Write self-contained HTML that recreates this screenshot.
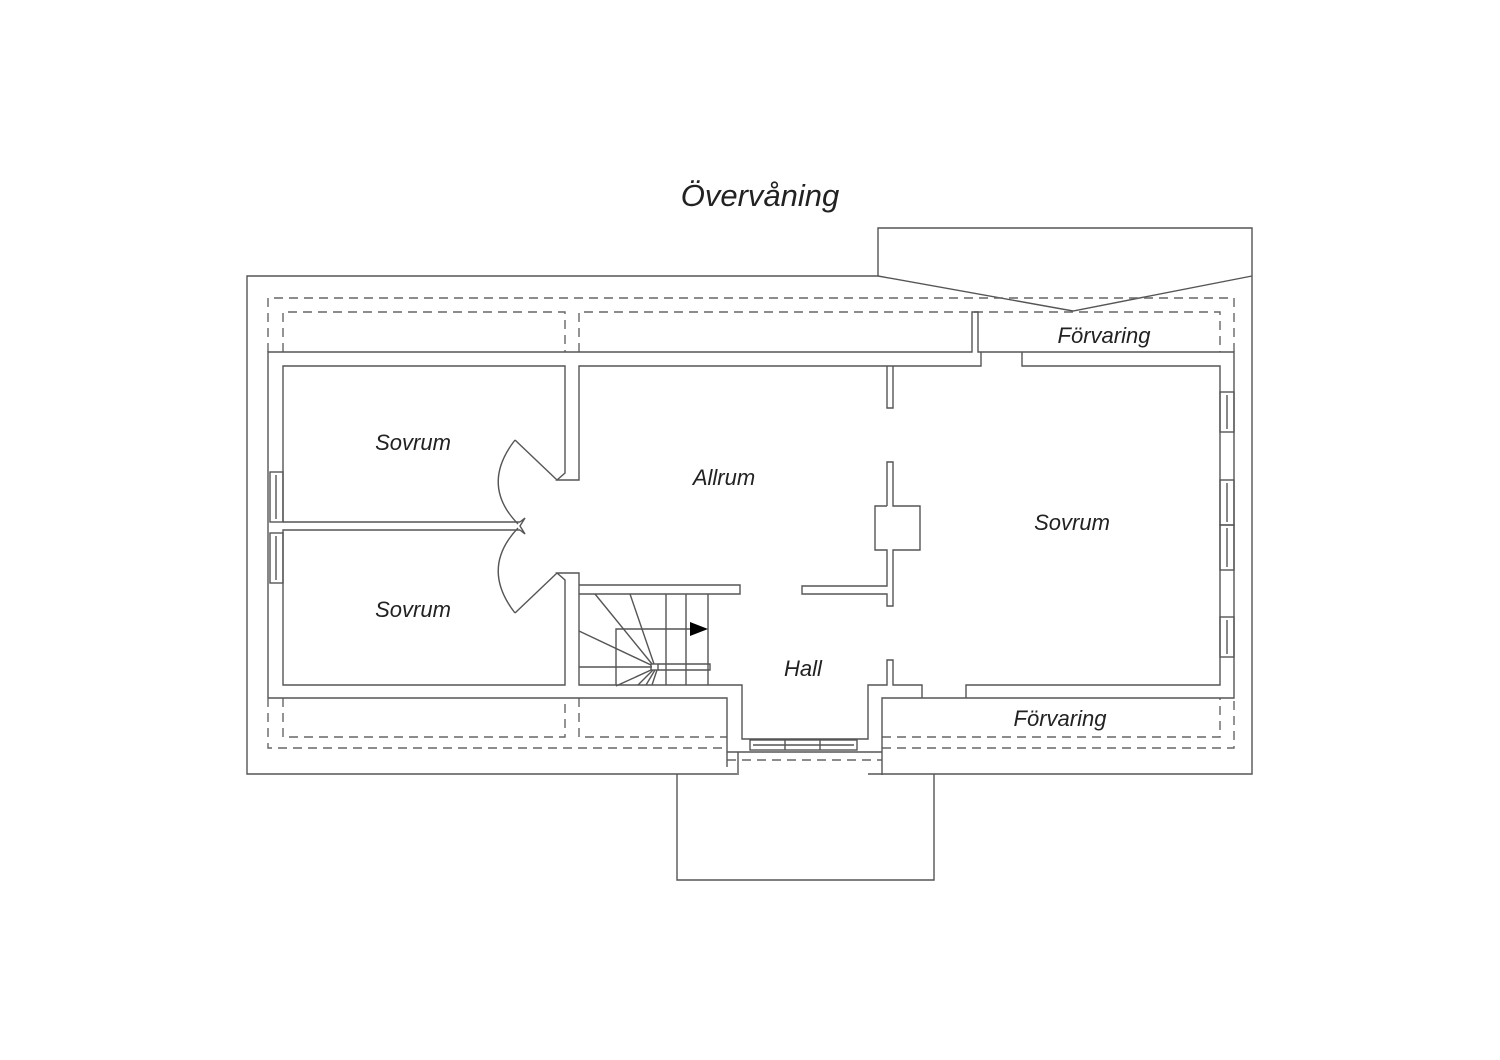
<!DOCTYPE html>
<html><head><meta charset="utf-8"><style>
html,body{margin:0;padding:0;background:#fff;}
svg{display:block}
text{font-family:"Liberation Sans",sans-serif;font-style:italic;fill:#222;}
</style></head><body>
<svg width="1500" height="1060" viewBox="0 0 1500 1060" xmlns="http://www.w3.org/2000/svg">
<rect width="1500" height="1060" fill="#fff"/>
<text x="760" y="206" font-size="31" text-anchor="middle">Övervåning</text>
<g fill="none" stroke="#555" stroke-width="1.4">
<!-- outer boundary -->
<polyline points="737,774 247,774 247,276 878,276"/>
<polyline points="868,774 1252,774 1252,228 878,228 878,276"/>
<polyline points="878,276 1073,311 1252,276"/>
<polyline points="677,774 677,880 934,880 934,774"/>
<!-- dashed lines -->
<g stroke-dasharray="9,6" stroke="#666">
<polyline points="268,352 268,298 1234,298 1234,352"/>
<polyline points="283,352 283,312 565,312 565,352"/>
<polyline points="579,352 579,312 1220,312 1220,352"/>
<polyline points="268,698 268,748 727,748"/>
<polyline points="283,698 283,737 565,737 565,698"/>
<polyline points="579,698 579,737 727,737"/>
<polyline points="882,737 1220,737 1220,698"/>
<polyline points="882,748 1234,748 1234,698"/>
<line x1="727" y1="760" x2="882" y2="760"/>
</g>
<!-- outer walls -->
<polyline points="268,698 268,352 972,352 972,312 978,312 978,352 1234,352 1234,698 882,698 882,775"/>
<polyline points="268,698 727,698 727,767"/>
<line x1="738" y1="752" x2="738" y2="775"/>
<line x1="727" y1="752" x2="882" y2="752"/>
<!-- left sovrums -->
<polyline points="283,522 283,366 565,366 565,473 557,480 565,480 579,480 579,366 981,366 981,352"/>
<polyline points="520,522 283,522"/>
<polyline points="520,530 283,530 283,685 565,685 565,580 557,573 565,573 579,573 579,685 740,685"/>
<polyline points="520,522 525,518 520,526 525,534 520,530"/>
<!-- doors -->
<line x1="557" y1="480" x2="515" y2="440"/>
<path d="M515,440 Q480,485 518,524"/>
<line x1="557" y1="573" x2="515" y2="613"/>
<path d="M515,613 Q480,568 518,528"/>
<!-- stair wall -->
<polyline points="579,585 740,585 740,594 579,594"/>
<!-- stairs -->
<line x1="666" y1="594" x2="666" y2="685"/>
<line x1="686" y1="594" x2="686" y2="685"/>
<line x1="708" y1="594" x2="708" y2="685"/>
<polyline points="616,685 616,629 690,629"/>
<line x1="579" y1="667" x2="652" y2="667"/>
<rect x="651" y="664" width="7" height="6"/>
<polyline points="658,664 710,664 710,670 658,670"/>
<line x1="652" y1="664" x2="595" y2="594"/>
<line x1="654" y1="664" x2="630" y2="594"/>
<line x1="651" y1="665" x2="579" y2="631"/>
<line x1="651" y1="670" x2="616" y2="686"/>
<line x1="653" y1="670" x2="638" y2="685"/>
<line x1="655" y1="670" x2="646" y2="685"/>
<line x1="657" y1="670" x2="652" y2="685"/>
<!-- hall -->
<polyline points="740,685 742,685 742,739 868,739 868,685 887,685 887,660 893,660 893,685 922,685 922,698"/>
<rect x="750" y="740" width="107" height="10"/>
<line x1="753" y1="745" x2="854" y2="745"/>
<line x1="785" y1="740" x2="785" y2="750"/><line x1="820" y1="740" x2="820" y2="750"/>
<!-- middle partition -->
<polyline points="887,366 887,408 893,408 893,366"/>
<polyline points="887,506 887,462 893,462 893,506 920,506 920,550 893,550 893,606 887,606 887,594 802,594 802,586 887,586 887,550 875,550 875,506 887,506"/>
<!-- right sovrum -->
<polyline points="1022,352 1022,366 1220,366 1220,685 966,685 966,698"/>
<!-- windows -->
<rect x="270" y="472" width="13" height="50"/><line x1="276" y1="475" x2="276" y2="519"/>
<rect x="270" y="533" width="13" height="50"/><line x1="276" y1="536" x2="276" y2="580"/>
<rect x="1220" y="392" width="14" height="40"/><line x1="1227" y1="395" x2="1227" y2="429"/>
<rect x="1220" y="480" width="14" height="45"/><line x1="1227" y1="483" x2="1227" y2="522"/>
<rect x="1220" y="525" width="14" height="45"/><line x1="1227" y1="528" x2="1227" y2="567"/>
<rect x="1220" y="617" width="14" height="40"/><line x1="1227" y1="620" x2="1227" y2="654"/>
</g>
<polygon points="690,622 708,629 690,636" fill="#000"/>
<text x="413" y="450" font-size="22" text-anchor="middle">Sovrum</text>
<text x="413" y="617" font-size="22" text-anchor="middle">Sovrum</text>
<text x="724" y="485" font-size="22" text-anchor="middle">Allrum</text>
<text x="1072" y="530" font-size="22" text-anchor="middle">Sovrum</text>
<text x="803" y="676" font-size="22" text-anchor="middle">Hall</text>
<text x="1104" y="343" font-size="22" text-anchor="middle">Förvaring</text>
<text x="1060" y="726" font-size="22" text-anchor="middle">Förvaring</text>
</svg>
</body></html>
